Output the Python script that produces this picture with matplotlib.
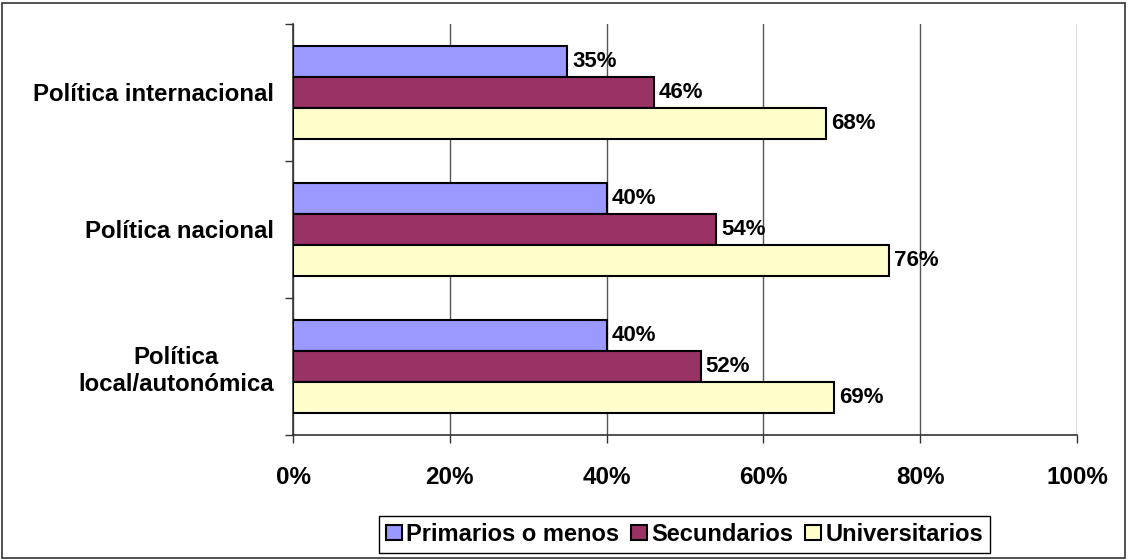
import numpy as np
import matplotlib.pyplot as plt
from matplotlib.patches import Rectangle

plt.rcParams['font.family'] = ['Liberation Sans', 'DejaVu Sans']
plt.rcParams['font.weight'] = 'bold'

# Survey data: share interested in each level of politics, by education
categories = ['Política internacional', 'Política nacional', 'Política\nlocal/autonómica']
primarios = [35, 40, 40]
secundarios = [46, 54, 52]
universitarios = [68, 76, 69]
series_names = ['Primarios o menos', 'Secundarios', 'Universitarios']
colors = ['#9999FF', '#993366', '#FFFFCC']
x_ticks = [0, 20, 40, 60, 80, 100]

fig = plt.figure(figsize=(11.28, 5.6), dpi=100)
ax = fig.add_axes([0.2598, 0.2232, 0.695, 0.734])

# categories top-down
ypos = np.arange(len(categories))[::-1]
bar_h = 0.224
offsets = [bar_h, 0, -bar_h]

for vals, name, col, off in zip([primarios, secundarios, universitarios],
                                series_names, colors, offsets):
    bars = ax.barh(ypos + off, vals, height=bar_h, color=col,
                   edgecolor='black', linewidth=1.5, label=name, zorder=3)
    for b, v in zip(bars, vals):
        ax.text(b.get_width() + 0.6, b.get_y() + b.get_height() / 2, f'{v}%',
                va='center', ha='left', fontsize=16, fontweight='bold', zorder=4)

ax.set_xlim(0, 100)
ax.set_ylim(-0.5, len(categories) - 0.5)
ax.set_xticks(x_ticks)
ax.set_xticklabels([f'{t}%' for t in x_ticks], fontsize=17.5, fontweight='bold')
ax.set_yticks(ypos)
ax.set_yticklabels(categories, fontsize=17.3, fontweight='bold', multialignment='center')
ax.set_yticks(np.arange(-0.5, len(categories)), minor=True)

ax.tick_params(axis='y', which='major', length=0, pad=14)
ax.tick_params(axis='y', which='minor', length=6, width=1, color='#333333')
ax.tick_params(axis='x', length=6, width=1, color='#333333', pad=16)

ax.grid(axis='x', color='#555555', linewidth=1, zorder=0)
for s in ['top', 'right']:
    ax.spines[s].set_visible(False)
for s in ['left', 'bottom']:
    ax.spines[s].set_color('#333333')
    ax.spines[s].set_linewidth(1.2)

leg = ax.legend(loc='center', bbox_to_anchor=(0.607, 0.046), bbox_transform=fig.transFigure,
                ncol=3, fancybox=False, edgecolor='black', framealpha=1,
                prop={'size': 17, 'weight': 'bold'}, handlelength=0.65, handleheight=0.65,
                handletextpad=0.2, columnspacing=0.5, borderpad=0.3, borderaxespad=0)
leg.get_frame().set_linewidth(1.0)

# outer frame around the whole chart
fig.add_artist(Rectangle((2 / 1128, 2 / 560), 1 - 5 / 1128, 1 - 5 / 560,
                         transform=fig.transFigure, fill=False,
                         edgecolor='#333333', linewidth=1.2))

fig.savefig('out.png', dpi=100)
